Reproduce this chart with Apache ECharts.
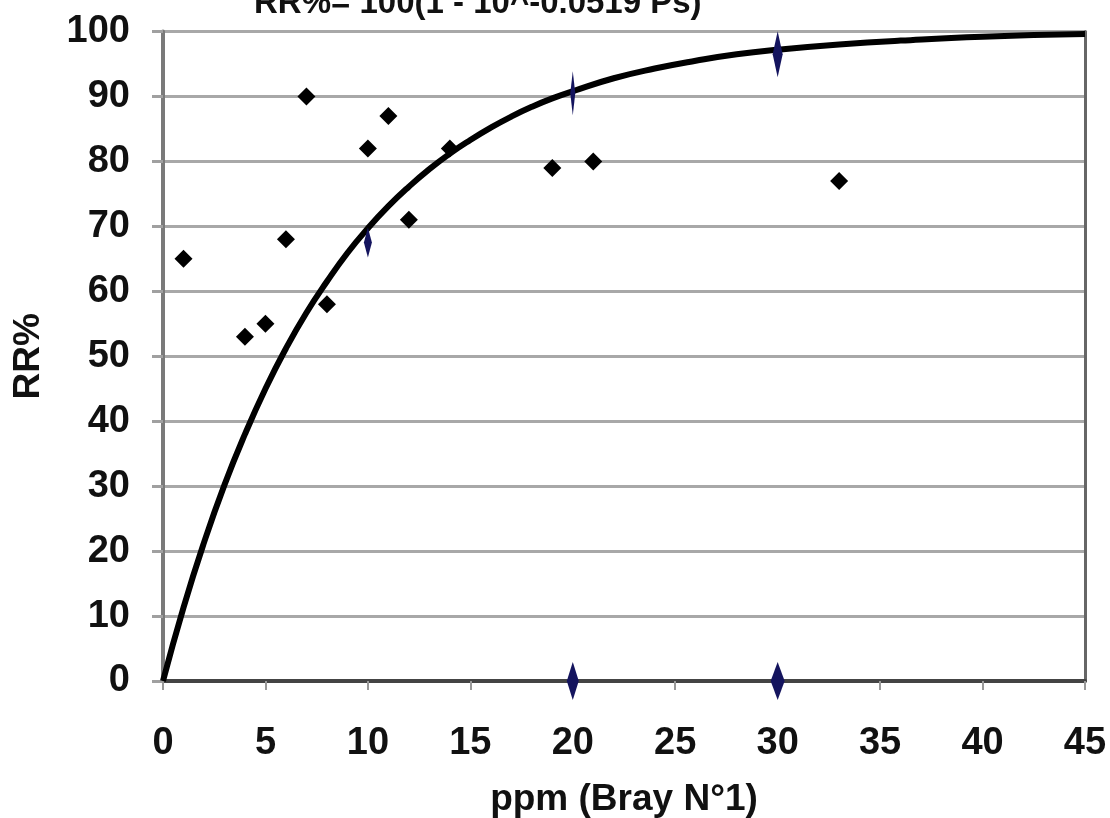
<!DOCTYPE html>
<html>
<head>
<meta charset="utf-8">
<script src="https://cdn.jsdelivr.net/npm/echarts@6/dist/echarts.min.js"></script>
<style>
html,body{margin:0;padding:0;background:#fff;}
#c{width:1110px;height:818px;}
</style>
</head>
<body>
<div id="c"></div>
<script>
// Title and axis names
const titleText = 'RR%= 100(1 - 10^-0.0519 Ps)';
const xName = 'ppm (Bray N°1)';
const yName = 'RR%';

// Observed points (black diamonds)
const obsX = [1, 4, 5, 6, 7, 8, 10, 11, 12, 14, 19, 21, 33];
const obsY = [65, 53, 55, 68, 90, 58, 82, 87, 71, 82, 79, 80, 77];

// Fitted curve
const curveX = [0, 1, 2, 3, 4, 5, 6, 7, 8, 9, 10, 11, 12, 13, 14, 15, 16, 17, 18, 19, 20, 22, 24, 26, 28, 30, 33, 36, 40, 45];
const curveY = [0, 11.3, 21.3, 30.2, 38.0, 45.0, 51.2, 56.7, 61.5, 65.9, 69.7, 73.1, 76.1, 78.8, 81.2, 83.3, 85.2, 86.9, 88.4, 89.7, 90.8, 92.8, 94.3, 95.5, 96.5, 97.2, 98.0, 98.6, 99.2, 99.6];

// Blue marks
const blueX = [10, 20, 30, 20, 30];
const blueY = [67.5, 90.5, 96.5, 0, 0];

const font = '"Liberation Sans", Arial, sans-serif';
const diamondTall = 'path://M5,0 L10,50 L5,100 L0,50 Z';

const chart = echarts.init(document.getElementById('c'), null, {renderer: 'canvas'});
const blueSizes = [[8, 30], [5, 44], [10, 46], [12, 38], [14, 38]];

chart.setOption({
  animation: false,
  backgroundColor: '#ffffff',
  title: {
    text: titleText,
    left: 249,
    top: -18,
    textStyle: {fontFamily: font, fontSize: 33, fontWeight: 'bold', color: '#111'}
  },
  grid: {left: 163, right: 25, top: 31.5, bottom: 137, containLabel: false, outerBoundsMode: 'none'},
  xAxis: {
    type: 'value', min: 0, max: 45, interval: 5,
    name: xName, nameLocation: 'middle', nameGap: 100,
    nameTextStyle: {fontFamily: font, fontSize: 37, fontWeight: 'bold', color: '#111'},
    axisLine: {show: true, onZero: false, lineStyle: {color: '#444', width: 4}},
    axisTick: {show: true, inside: false, length: 9, lineStyle: {color: '#999', width: 2}},
    axisLabel: {margin: 44, fontFamily: font, fontSize: 38, fontWeight: 'bold', color: '#111'},
    splitLine: {show: false}
  },
  yAxis: [{
    type: 'value', min: 0, max: 100, interval: 10,
    name: yName, nameLocation: 'middle', nameGap: 116, nameRotate: 90,
    nameTextStyle: {fontFamily: font, fontSize: 37, fontWeight: 'bold', color: '#111'},
    axisLine: {show: true, lineStyle: {color: '#7a7a7a', width: 4}},
    axisTick: {show: true, length: 11, lineStyle: {color: '#a0a0a0', width: 3}},
    axisLabel: {margin: 33, fontFamily: font, fontSize: 38, fontWeight: 'bold', color: '#111'},
    splitLine: {show: true, lineStyle: {color: '#a8a8a8', width: 3}}
  }, {
    type: 'value', min: 0, max: 100, interval: 10, position: 'right',
    axisLine: {show: true, lineStyle: {color: '#666', width: 3}},
    axisTick: {show: false}, axisLabel: {show: false}, splitLine: {show: false}
  }],
  series: [{
    type: 'line',
    data: curveX.map((x, i) => [x, curveY[i]]),
    smooth: 0.5,
    showSymbol: false,
    symbol: 'none',
    lineStyle: {color: '#000', width: 6},
    z: 3
  }, {
    type: 'scatter',
    data: obsX.map((x, i) => [x, obsY[i]]),
    symbol: 'diamond',
    symbolSize: 18,
    itemStyle: {color: '#000', opacity: 1},
    z: 4
  }, {
    type: 'scatter',
    data: blueX.map((x, i) => ({value: [x, blueY[i]], symbolSize: blueSizes[i]})),
    symbol: diamondTall,
    itemStyle: {color: '#14145e', opacity: 1},
    z: 5
  }]
});
</script>
</body>
</html>
